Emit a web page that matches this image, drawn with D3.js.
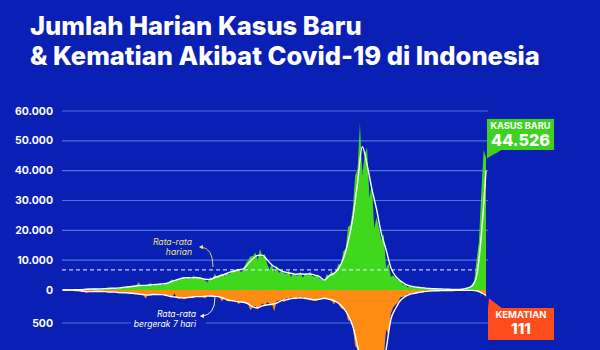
<!DOCTYPE html>
<html>
<head>
<meta charset="utf-8">
<script src="https://cdn.jsdelivr.net/npm/d3@7"></script>
<style>
  html, body { margin: 0; padding: 0; background: #0a1fb4; }
  svg { display: block; }
</style>
</head>
<body>
<svg id="chart" width="600" height="350"></svg>
<script>
// raw daily values, one sample every 4 days starting 3 Mar 2020 (last = 13 Feb 2022)
let rawStart = new Date(2020, 2, 3);
let rawStep = 4;
let casesRaw = [
  0, 2, 7, 21, 82, 65, 153, 114,
  181, 218, 399, 380, 185, 436, 415,
  292, 367, 387, 568, 496, 973, 415, 557,
  684, 672, 979, 1017, 1041, 1051, 1385,
  1385, 1607, 2657, 1282, 1462, 1655, 1868, 2381,
  1519, 1815, 1893, 2307, 1673, 2037, 2306, 2858,
  3622, 2880, 3737, 3507, 4168, 4465, 3874, 4174,
  3622, 4850, 3906, 4301, 4267, 3732, 3143,
  2618, 4262, 3779, 5444, 4265, 4998, 5534, 4617,
  5803, 5292, 6388, 6725, 6848, 7199, 5854,
  7203, 8854, 10046, 11278, 11287, 12568, 9994, 13802,
  10961, 12156, 8776, 6765, 9039, 6039, 8232,
  5712, 6412, 5633, 5414, 6585, 4396, 5937, 4933,
  4881, 6142, 4127, 5656, 4952, 6243, 4656,
  4512, 5285, 3922, 3448, 3080, 5296, 4738, 6565,
  5246, 6594, 8892, 8189, 12990, 13668, 21095, 21807,
  27233, 38391, 40427, 56000, 38325, 45416, 47791,
  30738, 35764, 20709, 24308, 20741, 16744, 18671, 7427,
  8955, 4413, 4870, 4128, 3385, 3263, 1760, 1954,
  921, 1384, 1261, 981, 914, 637, 707, 408,
  479, 437, 405, 434, 283, 411, 176,
  278, 203, 247, 190, 237, 183, 92, 274,
  299, 529, 802, 855, 1745, 2927, 9905,
  16021, 32211, 46843, 44526
];
let deathsRaw = [
  0, 0, 0, 1, 7, 1, 9, 14,
  21, 19, 46, 27, 12, 22, 20,
  31, 24, 16, 15, 43, 36, 23, 17,
  49, 48, 41, 31, 51, 37, 51,
  58, 53, 68, 50, 84, 127, 60, 74,
  64, 66, 80, 65, 59, 82, 82, 80,
  120, 50, 120, 135, 110, 140, 128, 116,
  116, 108, 87, 98, 101, 110, 128,
  84, 94, 98, 85, 100, 118, 169, 130,
  165, 171, 168, 174, 155, 218, 165,
  187, 194, 224, 306, 258, 240, 297, 252,
  201, 242, 187, 210, 208, 323, 162,
  163, 143, 187, 124, 131, 111, 129, 127,
  106, 131, 98, 146, 118, 148, 163,
  166, 164, 131, 113, 132, 137, 144, 154,
  221, 164, 211, 274, 290, 294, 467, 460,
  555, 852, 892, 1205, 1280, 1566, 1824,
  1604, 1739, 1475, 1466, 1245, 1361, 1030, 598,
  683, 355, 263, 219, 187, 110, 103, 94,
  61, 66, 47, 46, 45, 23, 31, 28,
  17, 18, 12, 6, 11, 19, 11,
  9, 8, 6, 9, 7, 10, 5, 8,
  5, 5, 5, 4, 7, 7, 19,
  21, 57, 44, 111
];

// 7-day moving averages, one reading every 8 days from the same start
let avgStep = 8;
let casesAvg = [
  0, 3, 30, 90, 140, 260, 320, 340, 380, 450,
  560, 580, 720, 950, 1080, 1250, 1500, 1550, 1650, 1800,
  1900, 2050, 2250, 2900, 3400, 3900, 4150, 4050, 4200, 4000,
  3600, 3500, 4200, 4700, 5200, 5900, 6300, 6800, 7100, 8800,
  10500, 11600, 11700, 10100, 8400, 7400, 6400, 5900, 5600, 5300,
  5400, 5300, 5400, 5000, 4500, 3300, 4700, 5500, 7200, 10500,
  16000, 24000, 36000, 48000, 42000, 34000, 27000, 19000, 13500, 7500,
  4600, 3100, 2000, 1400, 1050, 850, 650, 480, 420, 380,
  300, 230, 200, 190, 250, 600, 1300, 4500, 18000, 40000
];
let deathsAvg = [
  0, 0, 2, 8, 15, 25, 25, 22, 22, 25,
  32, 30, 40, 42, 45, 52, 60, 70, 75, 68,
  70, 70, 85, 100, 110, 120, 115, 110, 100, 100,
  95, 90, 95, 105, 130, 155, 165, 180, 185, 210,
  255, 270, 240, 225, 215, 200, 160, 150, 130, 125,
  120, 125, 140, 150, 140, 125, 140, 160, 200, 270,
  380, 550, 850, 1250, 1650, 1700, 1500, 1250, 900, 450,
  280, 160, 100, 65, 50, 35, 25, 17, 12, 11,
  8, 7, 7, 6, 5, 5, 6, 12, 40, 80
];

let dailyMean = 6750;
let caseTicks = [0, 10000, 20000, 30000, 40000, 50000, 60000];
let deathTicks = [500, 1000];
let titleLines = ["Jumlah Harian Kasus Baru", "& Kematian Akibat Covid-19 di Indonesia"];
let latestCases = 44526;
let latestDeaths = 111;

let bg = "#0a1fb4";
let svg = d3.select("#chart");
let idFormat = d3.formatLocale({ decimal: ",", thousands: ".", grouping: [3], currency: ["Rp", ""] }).format(",");

svg.append("rect").attr("width", 600).attr("height", 350).attr("fill", bg);

let x = d3.scaleTime()
  .domain([new Date(2020, 2, 2), new Date(2022, 1, 13)])
  .range([62, 486]);
let yCases = d3.scaleLinear().domain([0, 60000]).range([290, 111]);
let yDeaths = d3.scaleLinear().domain([0, 1000]).range([290, 356]);

function fitWidth(sel, target) {
  let w = sel.node().getComputedTextLength();
  let fs = parseFloat(sel.attr("font-size"));
  sel.attr("font-size", fs * target / w);
}

// title
let title = svg.append("g")
  .attr("fill", "#fff")
  .attr("font-family", "Inter, 'Open Sans', sans-serif")
  .attr("font-weight", 800);
let titleWidths = [332, 510];
titleLines.forEach(function(t, i) {
  let tx = title.append("text")
    .attr("x", 30).attr("y", 35 + i * 30)
    .attr("font-size", 22)
    .text(t);
  fitWidth(tx, titleWidths[i]);
});

// grid lines
let grid = svg.append("g").attr("stroke", "#4c73e6").attr("stroke-width", 1.2);
caseTicks.filter(d => d > 0).forEach(function(d) {
  grid.append("line")
    .attr("x1", 62).attr("x2", 488)
    .attr("y1", yCases(d)).attr("y2", yCases(d));
});

// tick labels
let ticks = svg.append("g")
  .attr("fill", "#fff")
  .attr("font-family", "Inter, 'Open Sans', sans-serif")
  .attr("font-weight", 700)
  .attr("text-anchor", "end")
  .attr("dominant-baseline", "central");
caseTicks.forEach(function(d) {
  ticks.append("text").attr("x", 53).attr("y", yCases(d)).attr("font-size", 10.5).text(idFormat(d));
});
deathTicks.forEach(function(d) {
  ticks.append("text").attr("x", 53).attr("y", yDeaths(d)).attr("font-size", 10.5).text(idFormat(d));
});

let rawCasesData = casesRaw.map((v, i) => ({ date: d3.timeDay.offset(rawStart, i * rawStep), v: v }));
let rawDeathsData = deathsRaw.map((v, i) => ({ date: d3.timeDay.offset(rawStart, i * rawStep), v: v }));
let avgCasesData = casesAvg.map((v, i) => ({ date: d3.timeDay.offset(rawStart, i * avgStep), v: v }));
let avgDeathsData = deathsAvg.map((v, i) => ({ date: d3.timeDay.offset(rawStart, i * avgStep), v: v }));

// areas
svg.append("path")
  .datum(rawCasesData)
  .attr("fill", "#3fd81c")
  .attr("d", d3.area().x(d => x(d.date)).y0(yCases(0)).y1(d => yCases(d.v)));
svg.append("path")
  .datum(rawDeathsData)
  .attr("fill", "#ff8c12")
  .attr("d", d3.area().x(d => x(d.date)).y0(yDeaths(0)).y1(d => yDeaths(d.v)));

// annotation labels; the 500 death grid line is broken around the lower one
let lbl = svg.append("g")
  .attr("font-family", "Inter, 'Open Sans', sans-serif")
  .attr("font-style", "italic")
  .attr("text-anchor", "end")
  .attr("font-size", 8.6);
lbl.append("text").attr("x", 196).attr("y", 317).attr("fill", "#fff").text("Rata-rata");
let lbl2 = lbl.append("text").attr("x", 196).attr("y", 326.5).attr("fill", "#fff").text("bergerak 7 hari");
let bb = lbl2.node().getBBox();
grid.append("line").attr("x1", 62).attr("x2", bb.x - 3)
  .attr("y1", yDeaths(500)).attr("y2", yDeaths(500));
grid.append("line").attr("x1", bb.x + bb.width + 9).attr("x2", 488)
  .attr("y1", yDeaths(500)).attr("y2", yDeaths(500));
grid.append("line").attr("x1", 62).attr("x2", 488)
  .attr("y1", yDeaths(1000)).attr("y2", yDeaths(1000));
grid.lower();
svg.select("rect").lower();

lbl.append("text").attr("x", 192).attr("y", 245).attr("fill", "#ece27a").text("Rata-rata");
lbl.append("text").attr("x", 192).attr("y", 254.5).attr("fill", "#ece27a").text("harian");

// daily mean dashed line
svg.append("line")
  .attr("x1", 62).attr("x2", 477)
  .attr("y1", yCases(dailyMean)).attr("y2", yCases(dailyMean))
  .attr("stroke", "#e8ecff").attr("stroke-opacity", 0.85)
  .attr("stroke-width", 1.2).attr("stroke-dasharray", "4,3");

// moving average lines
svg.append("path")
  .datum(avgCasesData)
  .attr("fill", "none").attr("stroke", "#fff").attr("stroke-width", 1.4)
  .attr("d", d3.line().curve(d3.curveMonotoneX).x(d => x(d.date)).y(d => yCases(d.v)));
svg.append("path")
  .datum(avgDeathsData)
  .attr("fill", "none").attr("stroke", "#fff").attr("stroke-width", 1.4)
  .attr("d", d3.line().curve(d3.curveMonotoneX).x(d => x(d.date)).y(d => yDeaths(d.v)));

// annotation arrows
let defs = svg.append("defs");
[["arrY", "#ece27a"], ["arrW", "#fff"]].forEach(function(a) {
  defs.append("marker")
    .attr("id", a[0]).attr("viewBox", "0 0 10 10")
    .attr("refX", 5).attr("refY", 5)
    .attr("markerWidth", 5).attr("markerHeight", 5)
    .attr("orient", "auto")
    .append("path").attr("d", "M0,0L10,5L0,10z").attr("fill", a[1]);
});
svg.append("path")
  .attr("d", "M213,267 Q213,248 201,247")
  .attr("fill", "none").attr("stroke", "#ece27a").attr("stroke-width", 0.9)
  .attr("marker-end", "url(#arrY)");
svg.append("path")
  .attr("d", "M215,297 Q215,315 202,316")
  .attr("fill", "none").attr("stroke", "#fff").attr("stroke-width", 0.9)
  .attr("marker-end", "url(#arrW)");

// callouts
function callout(color, box, tri, l1, l1y, l1w, l2, l2y, l2w) {
  let g = svg.append("g");
  g.append("polygon").attr("points", tri.map(p => p.join(",")).join(" ")).attr("fill", color);
  g.append("rect").attr("x", box[0]).attr("y", box[1]).attr("width", box[2]).attr("height", box[3]).attr("fill", color);
  let cx = box[0] + box[2] / 2;
  let t1 = g.append("text").attr("x", cx).attr("y", l1y)
    .attr("text-anchor", "middle").attr("fill", "#fff")
    .attr("font-family", "Inter, 'Open Sans', sans-serif").attr("font-weight", 700)
    .attr("font-size", 9).text(l1);
  fitWidth(t1, l1w);
  let t2 = g.append("text").attr("x", cx).attr("y", l2y)
    .attr("text-anchor", "middle").attr("fill", "#fff")
    .attr("font-family", "Inter, 'Open Sans', sans-serif").attr("font-weight", 800)
    .attr("font-size", 16).text(l2);
  fitWidth(t2, l2w);
}
let lastX = x(d3.timeDay.offset(rawStart, (casesRaw.length - 1) * rawStep));
callout("#3dd21f", [lastX + 1, 119, 67, 31],
  [[lastX + 1, 148], [lastX + 19, 148], [lastX + 1, yCases(latestCases) + 1]],
  "KASUS BARU", 129, 60, idFormat(latestCases), 146, 59);
callout("#ff4c1c", [lastX + 2, 308, 66, 32],
  [[lastX + 3, yDeaths(latestDeaths) + 1], [lastX + 2, 309], [lastX + 17, 309]],
  "KEMATIAN", 318, 51, idFormat(latestDeaths), 334, 20);
</script>
</body>
</html>
